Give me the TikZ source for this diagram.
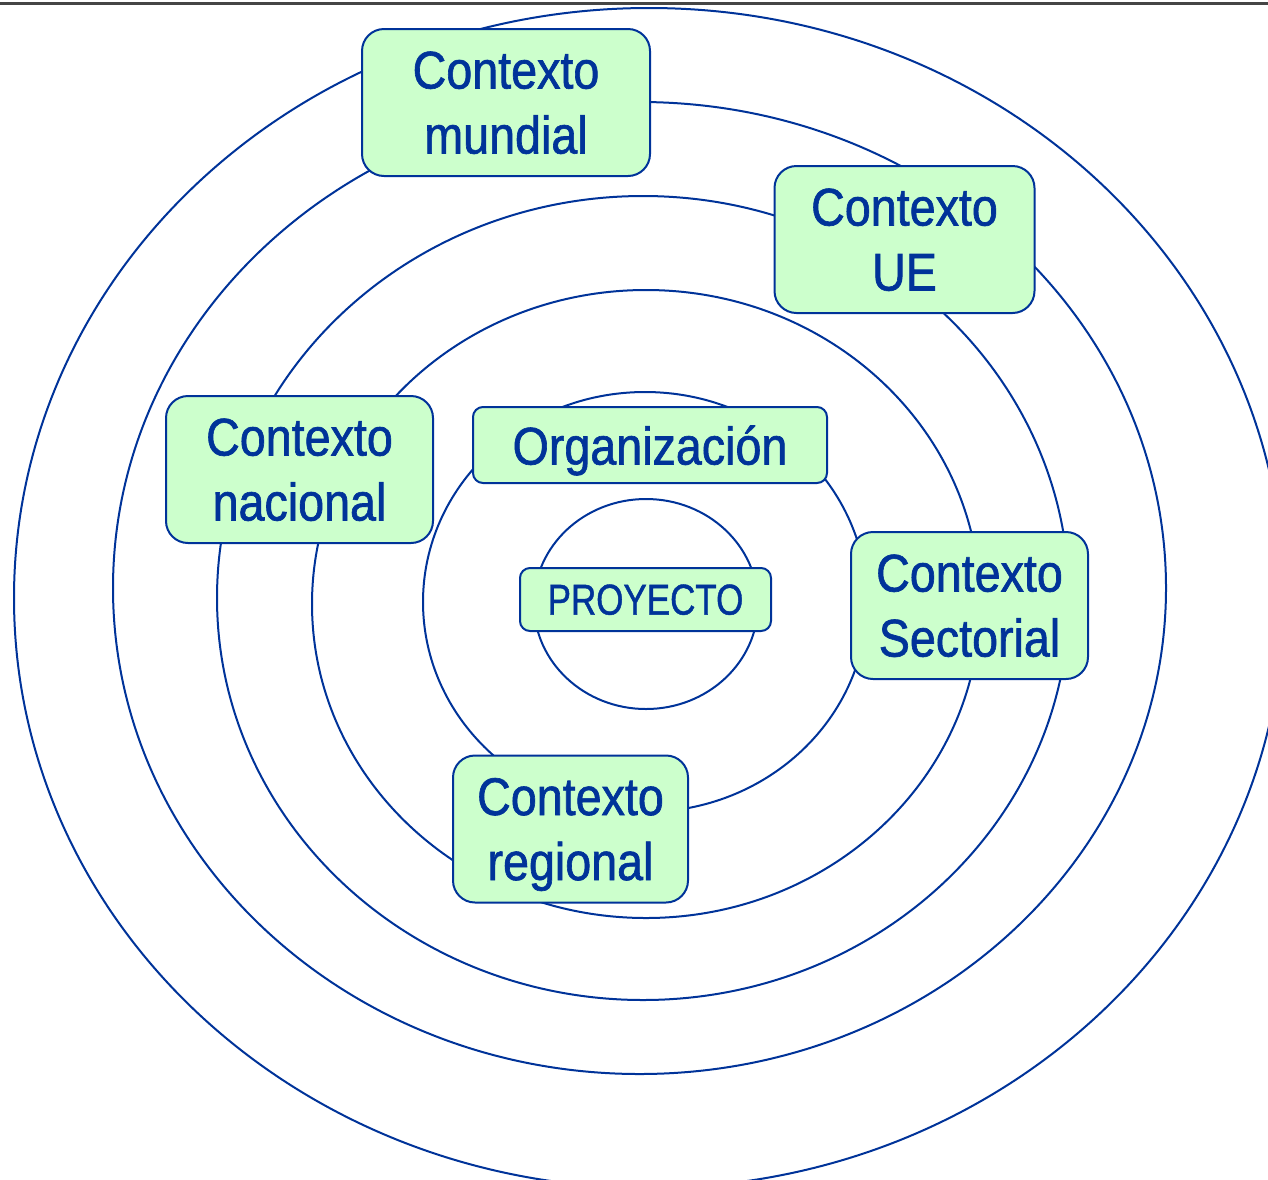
\documentclass[tikz,border=0pt]{standalone}
\usepackage{fontspec}
\newfontfamily\ctxfont{Liberation Sans}[FakeStretch=0.88, FakeBold=1.2]
\newfontfamily\proyfont{Liberation Sans}[FakeStretch=0.81, FakeBold=1]
\definecolor{azul}{HTML}{003399}
\definecolor{verde}{HTML}{CCFFCC}
\definecolor{raya}{HTML}{454545}

\begin{document}
\begin{tikzpicture}[x=0.5pt, y=-0.5pt,
	anillo/.style={draw=azul, line width=1pt},
	caja/.style={draw=azul, fill=verde, line width=1pt, rounded corners=11pt, text=azul, align=center, inner sep=0pt, minimum height=73.5pt, text depth=0pt, font=\ctxfont\fontsize{26.5}{32.5}\selectfont},
	cajita/.style={caja, rounded corners=5pt}]

	\useasboundingbox (0,0) rectangle (1268,1179);
	\draw[raya, line width=1.6pt] (0,3.5) -- (1268,3.5);

	% anillos
	\draw[anillo] (649,598) ellipse [x radius=635, y radius=590];
	\draw[anillo] (639.5,588) ellipse [x radius=526.5, y radius=486];
	\draw[anillo] (643,598) ellipse [x radius=426, y radius=402];
	\draw[anillo] (646,604) ellipse [x radius=334, y radius=314];
	\draw[anillo] (645,602) ellipse [x radius=222, y radius=210];
	\draw[anillo] (646,604) ellipse [x radius=112, y radius=105];

	% cajas
	\node[caja, minimum width=144pt] (mundial) at (506,102.5) {Contexto\\mundial};
	\node[caja, minimum width=130pt] (ue) at (904.5,239.5) {Contexto\\UE};
	\node[caja, minimum width=133.5pt] (nacional) at (299.5,469.5) {Contexto\\nacional};
	\node[caja, minimum width=118.5pt] (sectorial) at (969.5,605.5) {Contexto\\Sectorial};
	\node[caja, minimum width=117.5pt] (regional) at (570.5,829) {Contexto\\regional};
	\node[cajita, minimum width=177pt, minimum height=38pt] (organizacion) at (650,445) {Organización};
	\node[cajita, minimum width=125.5pt, minimum height=31.5pt, font=\proyfont\fontsize{21.6}{26}\selectfont] (proyecto) at (645.5,599.5) {PROYECTO};
\end{tikzpicture}
\end{document}
